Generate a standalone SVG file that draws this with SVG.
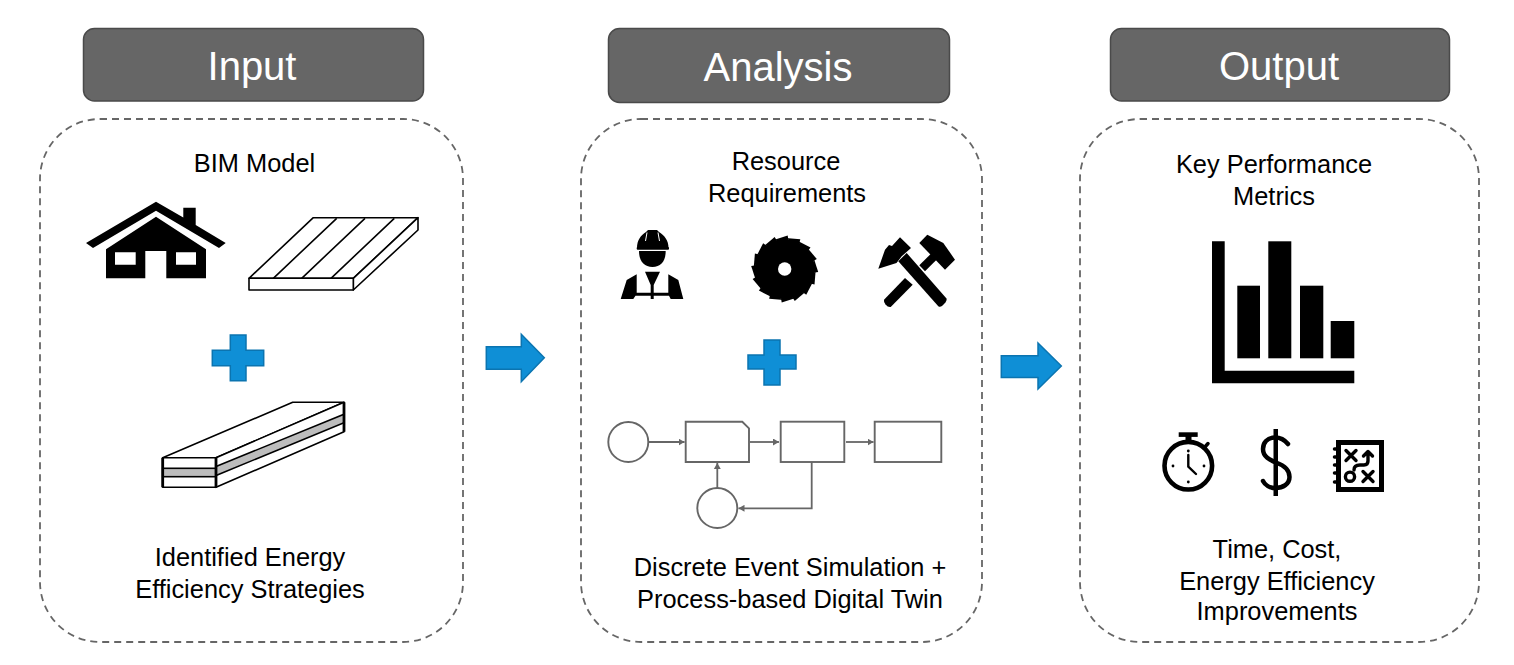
<svg xmlns="http://www.w3.org/2000/svg" width="1514" height="665" viewBox="0 0 1514 665">
<style>
text{font-family:"Liberation Sans",Arial,sans-serif;fill:#000;text-anchor:middle}
.head{fill:#666;stroke:#4a4a4a;stroke-width:1.5}
.headtext{font-size:40px;fill:#fff}
.panel{fill:#fff;stroke:#666;stroke-width:1.8;stroke-dasharray:7 5}
.label{font-size:25.400px}
.blue{fill:#0f8fd6;stroke:#0b74b0;stroke-width:1.5}
.ink{fill:#000}
.line{fill:#fff;stroke:#000;stroke-width:1.6;stroke-linejoin:round}
.flow{fill:#fff;stroke:#666;stroke-width:1.900}
.wire{fill:none;stroke:#666;stroke-width:1.800;marker-end:url(#tip)}
.pen{fill:none;stroke:#000;stroke-linecap:round;stroke-linejoin:round}
</style>
<defs>
<marker id="tip" markerUnits="userSpaceOnUse" markerWidth="7" markerHeight="7" refX="6" refY="3.500" orient="auto"><path d="M0 0L6 3.500L0 7z" fill="#666"/></marker>
<path id="tooth" d="M773.700 240L787.700 235.500L788.700 242z" fill="#000"/>
</defs>
<rect width="1514" height="665" fill="#fff"/>

<g id="input">
<rect class="panel" x="40" y="119" width="423" height="523" rx="60"/>
<rect class="head" x="83.500" y="28.500" width="340" height="72.500" rx="11"/>
<text class="headtext" x="252" y="80">Input</text>
<text class="label" x="254.500" y="172">BIM Model</text>
<g id="house">
<path class="ink" d="M86 243L156 201.700L183.300 217.500V207.700H195.700V225L225.700 243L219 248L156 210.700L93 248z"/>
<path class="ink" fill-rule="evenodd" d="M156 216.700L206 249.300V278.300H166.300V251H145.300V278.300H106V249.300zM115 252.300V264.700H135.700V252.300zM176 252.300V264.700H196V252.300z"/>
</g>
<g id="panel-stack">
<path class="line" d="M249 278.300L313.300 217.700H418L353.300 278.300z"/>
<path class="line" d="M353.300 278.300L418 217.700V230L353.300 290z"/>
<rect class="line" x="249" y="278.300" width="104.300" height="11.700"/>
<path class="line" fill="none" d="M336.700 218.300L273.300 278.300M365 218.300L301.700 278.300M394.300 218.300L331 278.300"/>
</g>
<path id="plus-input" class="blue" d="M230.300 335H246V350.300H263.700V365.700H246V380.700H230.300V365.700H212.300V350.300H230.300z"/>
<g id="beam">
<path class="line" d="M162.700 457.700L292.700 402.300H344L216 457.700z"/>
<path class="line" d="M216 457.700L344 402.300V431.700L216 487.300z"/>
<path d="M216 466.500L344 414.300V422.700L216 475.500z" fill="#bdbdbd" stroke="#000" stroke-width="1.600"/>
<rect class="line" x="162.700" y="457.700" width="53.300" height="29.600"/>
<rect x="162.700" y="468.300" width="53.300" height="8.400" fill="#bdbdbd" stroke="#000" stroke-width="1.600"/>
<path d="M162.700 457.700V487.300M216 457.700V487.300M344 402.300V431.700" stroke="#000" stroke-width="2.800" fill="none"/>
</g>
<text class="label" x="250" y="566">Identified Energy</text>
<text class="label" x="250" y="598">Efficiency Strategies</text>
</g>

<g id="analysis">
<rect class="panel" x="581" y="119" width="401" height="523" rx="60"/>
<rect class="head" x="608.500" y="28.500" width="341" height="74" rx="11"/>
<text class="headtext" x="778" y="81">Analysis</text>
<text class="label" x="786" y="170">Resource</text>
<text class="label" x="787" y="202">Requirements</text>
<g id="worker">
<path class="ink" d="M637 248C637 240 641 235 646 232L648 230H657L659 232C664 235 668.500 240 668.500 248z"/>
<path d="M647 232.500L645.500 241M658 232.500L659.500 241" stroke="#fff" stroke-width="1"/>
<rect class="ink" x="636.700" y="247" width="32.300" height="2.800" rx="1"/>
<path class="ink" d="M639 251H665.700C665.700 261 661 267 652.500 267C644 267 639 261 639 251z"/>
<path class="ink" d="M645 271.700H660L653.700 285V299H650.700V285z"/>
<path class="ink" d="M620.700 299L626.700 280L636.700 274.300V292.700H651V295.700H635.500L633.300 299z"/>
<path class="ink" d="M683.300 299L678.300 280L668.300 274.300V292.700H653V295.700H669L670.700 299z"/>
</g>
<g id="saw">
<circle class="ink" cx="784.700" cy="269" r="30"/>
<use href="#tooth"/>
<use href="#tooth" transform="rotate(22.500 784.700 269)"/>
<use href="#tooth" transform="rotate(45 784.700 269)"/>
<use href="#tooth" transform="rotate(67.500 784.700 269)"/>
<use href="#tooth" transform="rotate(90 784.700 269)"/>
<use href="#tooth" transform="rotate(112.500 784.700 269)"/>
<use href="#tooth" transform="rotate(135 784.700 269)"/>
<use href="#tooth" transform="rotate(157.500 784.700 269)"/>
<use href="#tooth" transform="rotate(180 784.700 269)"/>
<use href="#tooth" transform="rotate(202.500 784.700 269)"/>
<use href="#tooth" transform="rotate(225 784.700 269)"/>
<use href="#tooth" transform="rotate(247.500 784.700 269)"/>
<use href="#tooth" transform="rotate(270 784.700 269)"/>
<use href="#tooth" transform="rotate(292.500 784.700 269)"/>
<use href="#tooth" transform="rotate(315 784.700 269)"/>
<use href="#tooth" transform="rotate(337.500 784.700 269)"/>
<circle cx="784.700" cy="269" r="6.700" fill="#fff"/>
</g>
<g id="hammers">
<path class="ink" d="M878.300 268.700L885 249.700L889 245L892 246L900 237.300L911 248L901.700 256.300L896.500 263z"/>
<path class="ink" d="M906.700 253L946.700 298.700Q947 302 942 306Q940 307.500 938.300 306.300L898.300 261.300z"/>
<path class="ink" d="M884 299.700L905 278L912.700 284.700L890.700 307Q888 307.500 885.500 304.500Q883.500 302 884 299.700z"/>
<path class="ink" d="M919.300 265.300L931.700 253L938.300 258L925 271.300z"/>
<path class="ink" d="M919.300 243L927.300 234.700L943.300 243L955 259.700L945 269.700z"/>
</g>
<path id="plus-analysis" class="blue" d="M764 340H780V355H796V369H780V385H764V369H748V355H764z"/>
<g id="flow-nodes">
<circle class="flow" cx="628.300" cy="442" r="20"/>
<path class="flow" d="M685.700 421.700H742.300L749 428.300V462H685.700z"/>
<rect class="flow" x="780.700" y="421.700" width="63.600" height="40.300"/>
<rect class="flow" x="874.700" y="421.700" width="66.600" height="40.300"/>
<circle class="flow" cx="717.300" cy="508" r="20"/>
</g>
<g id="flow-links">
<path class="wire" d="M648.500 442H684.500"/>
<path class="wire" d="M750 442H779"/>
<path class="wire" d="M846 442H873.500"/>
<path class="wire" d="M717.300 488V463"/>
<path class="wire" d="M811.700 462V508.300H738.500"/>
</g>
<text class="label" x="790" y="576">Discrete Event Simulation +</text>
<text class="label" x="790" y="608">Process-based Digital Twin</text>
</g>

<g id="output">
<rect class="panel" x="1080" y="119" width="399" height="523" rx="60"/>
<rect class="head" x="1110.500" y="28.500" width="339" height="72.500" rx="11"/>
<text class="headtext" x="1279" y="80">Output</text>
<text class="label" x="1274" y="173">Key Performance</text>
<text class="label" x="1274" y="205">Metrics</text>
<g id="chart">
<path class="ink" d="M1212 241.300H1224.700V370.700H1354.300V383.300H1212z"/>
<rect class="ink" x="1237.300" y="285.700" width="22.700" height="72.600"/>
<rect class="ink" x="1268.300" y="241.300" width="23" height="117"/>
<rect class="ink" x="1300" y="285.700" width="23.300" height="72.600"/>
<rect class="ink" x="1330.700" y="321" width="23.600" height="37.300"/>
</g>
<g id="stopwatch">
<circle class="pen" cx="1188.300" cy="465.700" r="23.800" stroke-width="4.600"/>
<rect class="ink" x="1178.700" y="432.300" width="19" height="4.600"/>
<rect class="ink" x="1185.500" y="436" width="6" height="7"/>
<path class="pen" d="M1204 448L1208 443.500" stroke-width="3.500"/>
<path class="pen" d="M1188.300 455V466.700L1196 474" stroke-width="2.400"/>
<circle class="ink" cx="1188.300" cy="451" r="1.400"/>
<circle class="ink" cx="1188.300" cy="482" r="1.400"/>
<circle class="ink" cx="1173" cy="466" r="1.400"/>
<circle class="ink" cx="1204" cy="466" r="1.400"/>
</g>
<g id="dollar">
<path class="pen" d="M1288 444C1284 439 1280 437.500 1275 437.500C1267 437.500 1263 443 1263 449C1263 457 1270 460 1276 462.500C1283 465 1289.500 469 1289.500 477C1289.500 484 1283 488 1275.500 488C1270 488 1265 485 1263 481" stroke-width="4.500"/>
<rect class="ink" x="1273.500" y="429" width="4.500" height="67"/>
</g>
<g id="plan">
<rect x="1338.500" y="442.500" width="43" height="47" fill="none" stroke="#000" stroke-width="5"/>
<path class="pen" d="M1334.500 449H1337M1334.500 457H1337M1334.500 465H1337M1334.500 473H1337M1334.500 482H1337" stroke-width="3.500"/>
<path class="pen" d="M1346 450.500L1356 460.500M1356 450.500L1346 460.500M1363 471.500L1373 481.500M1373 471.500L1363 481.500" stroke-width="3.400"/>
<circle class="pen" cx="1350" cy="476.700" r="4.600" stroke-width="3.400"/>
<path class="pen" d="M1354 470Q1354 465 1360 465H1364Q1368 465 1368 461V452M1363.500 456L1368 451.500L1372.500 456" stroke-width="3.400"/>
</g>
<text class="label" x="1277" y="558">Time, Cost,</text>
<text class="label" x="1277" y="590">Energy Efficiency</text>
<text class="label" x="1277" y="620">Improvements</text>
</g>

<g id="connectors">
<path class="blue" d="M486.300 346.700H521.300V334.300L544.300 357.700L521.300 381.700V369.300H486.300z"/>
<path class="blue" d="M1001.300 355.700H1038V343L1061.300 366L1038 389V377.500H1001.300z"/>
</g>
</svg>
